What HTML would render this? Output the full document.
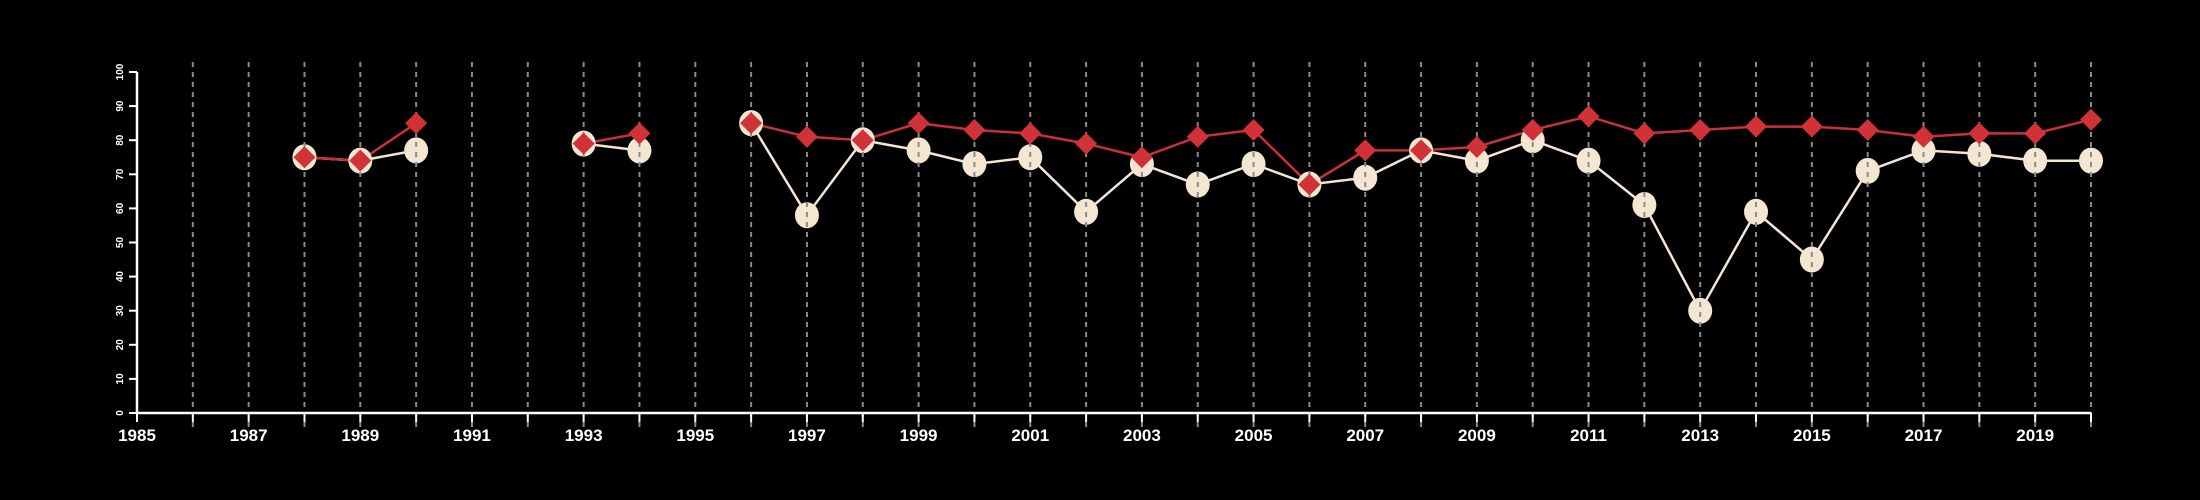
<!DOCTYPE html>
<html><head><meta charset="utf-8"><style>
html,body{margin:0;padding:0;background:#000;}
svg{display:block;}
text{font-family:"Liberation Sans",sans-serif;fill:#fff;font-weight:bold;}
</style></head><body>
<svg id="chart" width="2200" height="500" viewBox="0 0 2200 500" xmlns="http://www.w3.org/2000/svg">
<rect width="2200" height="500" fill="#000"/>
</svg>
<script>
const years = [1988,1989,1990,1991,1992,1993,1994,1995,1996,1997,1998,1999,2000,2001,2002,2003,2004,2005,2006,2007,2008,2009,2010,2011,2012,2013,2014,2015,2016,2017,2018,2019,2020];
const seriesA = [75,74,77,null,null,79,77,null,85,58,80,77,73,75,59,73,67,73,67,69,77,74,80,74,61,30,59,45,71,77,76,74,74];
const seriesB = [75,74,85,null,null,79,82,null,85,81,80,85,83,82,79,75,81,83,67,77,77,78,83,87,82,83,84,84,83,81,82,82,86];
const yTicks = [0,10,20,30,40,50,60,70,80,90,100];
const xLabels = [1985,1987,1989,1991,1993,1995,1997,1999,2001,2003,2005,2007,2009,2011,2013,2015,2017,2019];

const NS="http://www.w3.org/2000/svg";
const svg=document.getElementById('chart');
const x0=137, x1=2091, yr0=1985, yr1=2020, yb=413, yt=72;
const X=v=>x0+(v-yr0)*(x1-x0)/(yr1-yr0);
const Y=v=>yb-(v/100)*(yb-yt);
function mk(tag,attrs,parent){const e=document.createElementNS(NS,tag);for(const k in attrs)e.setAttribute(k,attrs[k]);(parent||svg).appendChild(e);return e;}

const gLines=mk('g',{});
const gCirc=mk('g',{});
const gGrid=mk('g',{});
const gDia=mk('g',{});
const gAxis=mk('g',{});

function linePath(vals){let d='',pen=false;vals.forEach((v,i)=>{if(v==null){pen=false;return;}d+=(pen?'L':'M')+X(years[i]).toFixed(1)+' '+Y(v).toFixed(1)+' ';pen=true;});return d;}
const la=mk('path',{d:linePath(seriesA),fill:'none',stroke:'#f5e6d2','stroke-width':2.5},gLines);

const lb=mk('path',{d:linePath(seriesB),fill:'none',stroke:'#c8303a','stroke-width':2.5},gLines);


seriesA.forEach((v,i)=>{if(v==null)return;
 const c=mk('ellipse',{cx:X(years[i]),cy:Y(v),rx:12,ry:13,fill:'#f5e6d2'},gCirc);
 });

for(let yv=1986;yv<=2020;yv++){
 const l=mk('line',{x1:X(yv),x2:X(yv),y1:62,y2:428,stroke:'#8a8a8a','stroke-width':2,'stroke-dasharray':'5,5'},gGrid);
 }

seriesB.forEach((v,i)=>{if(v==null)return;
 const cx=X(years[i]),cy=Y(v),r=11;
 const p=mk('polygon',{points:`${cx},${cy-r} ${cx+r},${cy} ${cx},${cy+r} ${cx-r},${cy}`,fill:'#d03237'},gDia);
 });

const xa=mk('line',{x1:x0,x2:x1,y1:yb,y2:yb,stroke:'#fff','stroke-width':2.5},gAxis);

const ya=mk('line',{x1:x0,x2:x0,y1:yt,y2:yb,stroke:'#fff','stroke-width':2.5},gAxis);

for(let yv=1985;yv<=2020;yv++){
 const t=mk('line',{x1:X(yv),x2:X(yv),y1:yb,y2:yb+9,stroke:'#fff','stroke-width':2},gAxis);
 }
xLabels.forEach(v=>{
 const t=mk('text',{x:X(v),y:441,'text-anchor':'middle','font-size':17},gAxis);t.textContent=v;
 });
yTicks.forEach(v=>{
 const t=mk('line',{x1:x0-8,x2:x0,y1:Y(v),y2:Y(v),stroke:'#fff','stroke-width':2},gAxis);
 
 const tx=mk('text',{x:0,y:0,'text-anchor':'middle','font-size':10,transform:`translate(${x0-14},${Y(v)}) rotate(-90)`},gAxis);tx.textContent=v;
 });
</script>
</body></html>
